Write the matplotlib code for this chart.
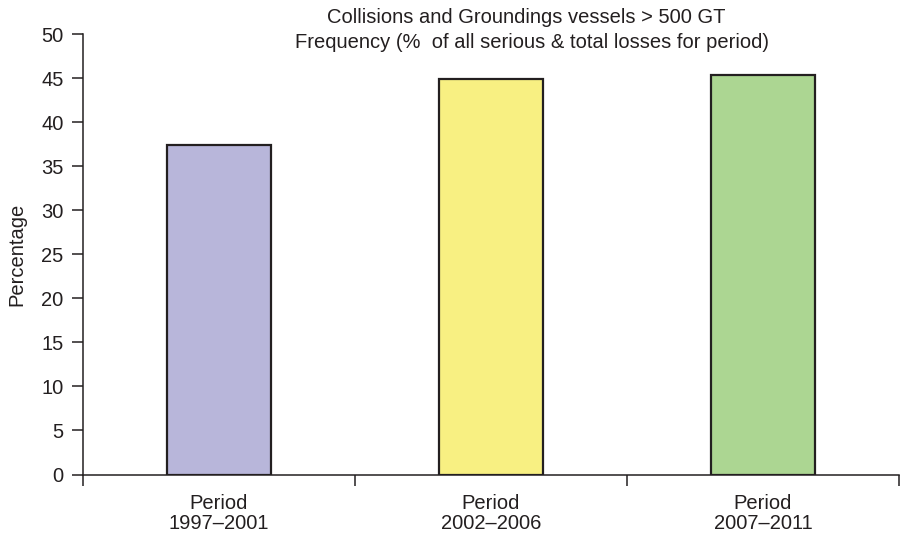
import matplotlib
matplotlib.use("Agg")
import matplotlib.pyplot as plt

categories = ["Period\n1997\u20132001", "Period\n2002\u20132006", "Period\n2007\u20132011"]
values = [37.4, 44.9, 45.35]
colors = ["#b8b6da", "#f8f082", "#acd692"]
yticks = [0, 5, 10, 15, 20, 25, 30, 35, 40, 45, 50]

plt.rcParams['font.family'] = ['Liberation Sans', 'DejaVu Sans']

fig = plt.figure(figsize=(9, 5.38), dpi=100)
ax = fig.add_axes([83/900, 1-474.5/538, (899-83)/900, (474.5-34)/538])

x = list(range(len(categories)))
ax.bar(x, values, width=0.38, color=colors, edgecolor="#231f20", linewidth=1.6, zorder=3)

ax.set_xlim(-0.5, 2.5)
ax.set_ylim(0, 50)
ax.set_yticks(yticks)
ax.set_yticklabels([str(v) for v in yticks])
ax.set_xticks(x)
ax.set_xticklabels(categories, fontsize=14.5, color="#231f20", linespacing=1.05)
ax.set_xticks([-0.5, 0.5, 1.5, 2.5], minor=True)
ax.tick_params(axis='x', which='major', length=0, pad=14)
ax.tick_params(axis='x', which='minor', length=8, width=1.1, color="#231f20", direction='out')
ax.tick_params(axis='y', which='major', length=8, width=1.1, color="#231f20", labelsize=14.5,
               labelcolor="#231f20", pad=6)

for s in ['top', 'right']:
    ax.spines[s].set_visible(False)
for s in ['left', 'bottom']:
    ax.spines[s].set_linewidth(1.1)
    ax.spines[s].set_color("#231f20")

ax.set_ylabel("Percentage", fontsize=14.5, color="#231f20")
ax.yaxis.set_label_coords(-0.069, 0.5)

fig.text(526/900, 1-22.7/538, "Collisions and Groundings vessels > 500 GT",
         ha='center', va='baseline', fontsize=14.5, color="#231f20")
fig.text(532/900, 1-48.3/538, "Frequency (%  of all serious & total losses for period)",
         ha='center', va='baseline', fontsize=14.5, color="#231f20")

fig.savefig("out.png", dpi=100)
